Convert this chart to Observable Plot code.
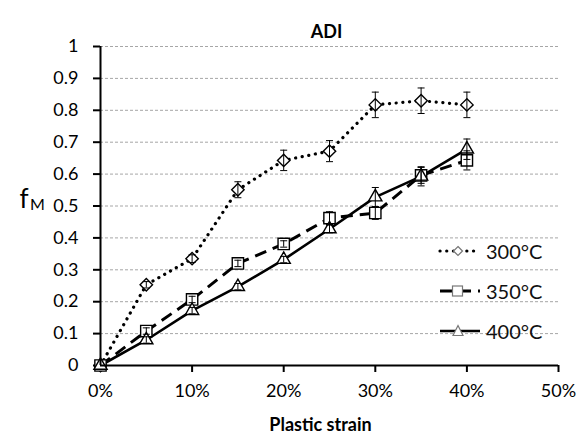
<!DOCTYPE html>
<html>
<head>
<meta charset="utf-8">
<script src="https://cdn.jsdelivr.net/npm/d3@7"></script>
<script src="https://cdn.jsdelivr.net/npm/@observablehq/plot@0.6"></script>
<style>
  body { margin: 0; background: white; }
  #wrap { position: relative; width: 582px; height: 441px; font-family: Lato, "Open Sans", sans-serif; }
  #legend { position: absolute; left: 438px; top: 231px; }
  .row { display: flex; align-items: center; height: 40px; }
  .row span { font-size: 20px; color: #111; margin-left: 4px; }
</style>
</head>
<body>
<div id="wrap"></div>
<script>
// ---- data ----
const strain = [0, 0.05, 0.10, 0.15, 0.20, 0.25, 0.30, 0.35, 0.40];
const f300 = [0, 0.253, 0.335, 0.551, 0.643, 0.672, 0.817, 0.830, 0.817];
const e300 = [0, 0.010, 0.012, 0.025, 0.032, 0.033, 0.040, 0.040, 0.040];
const f350 = [0, 0.108, 0.207, 0.320, 0.381, 0.462, 0.478, 0.596, 0.643];
const e350 = [0, 0.010, 0.010, 0.010, 0.010, 0.020, 0.020, 0.025, 0.030];
const f400 = [0, 0.080, 0.172, 0.247, 0.332, 0.428, 0.528, 0.593, 0.678];
const e400 = [0, 0.010, 0.010, 0.010, 0.010, 0.012, 0.030, 0.030, 0.032];
const seriesNames = ["300°C", "350°C", "400°C"];
const xTicks = [0, 0.1, 0.2, 0.3, 0.4, 0.5];
const yTicks = [0, 0.1, 0.2, 0.3, 0.4, 0.5, 0.6, 0.7, 0.8, 0.9, 1];
const titleText = "ADI";
const xLabel = "Plastic strain";
const yLabelMain = "f";
const yLabelSub = "M";

// ---- build tables ----
const makeRows = (vals, errs) => strain.map((s, i) => ({ strain: s, f: vals[i], lo: vals[i] - errs[i], hi: vals[i] + errs[i], e: errs[i] }));
const series = [
  { name: seriesNames[0], rows: makeRows(f300, e300), dash: "0.1,6.6", width: 3.2, symbol: "diamond2", r: 5.6 },
  { name: seriesNames[1], rows: makeRows(f350, e350), dash: "12,7", width: 3, symbol: "square2", r: 7.2 },
  { name: seriesNames[2], rows: makeRows(f400, e400), dash: null, width: 2.6, symbol: "triangle2", r: 6.3 }
];

const cap = { draw(ctx) { ctx.moveTo(-3.5, 0); ctx.lineTo(3.5, 0); } };

const marks = [
  Plot.gridY(yTicks, { stroke: "#a6a6a6", strokeOpacity: 1, strokeDasharray: "3,2", strokeWidth: 1 }),
  Plot.axisY(yTicks, { tickSize: 7, tickPadding: 15, fontSize: 18, strokeWidth: 2, label: null, tickFormat: d => String(+d.toFixed(1)) }),
  Plot.axisX(xTicks, { tickSize: 7, tickPadding: 12, fontSize: 18, strokeWidth: 2, label: null, tickFormat: d3.format(".0%") }),
];
for (const s of series) {
  marks.push(Plot.line(s.rows, { x: "strain", y: "f", stroke: "black", strokeWidth: s.width, strokeDasharray: s.dash, strokeLinecap: s.dash && s.dash.startsWith("0.1") ? "round" : "butt" }));
}
for (const s of series) {
  marks.push(Plot.dot(s.rows, { x: "strain", y: "f", symbol: s.symbol, r: s.r, fill: "white", stroke: "black", strokeWidth: 1.4 }));
}
for (const s of series) {
  const eb = s.rows.filter(d => d.e > 0);
  marks.push(Plot.ruleX(eb, { x: "strain", y1: "lo", y2: "hi", stroke: "black", strokeWidth: 1 }));
  marks.push(Plot.dot(eb, { x: "strain", y: "hi", symbol: cap, fill: "none", stroke: "black", strokeWidth: 1 }));
  marks.push(Plot.dot(eb, { x: "strain", y: "lo", symbol: cap, fill: "none", stroke: "black", strokeWidth: 1 }));
}
marks.push(
  Plot.ruleX([0], { stroke: "black", strokeWidth: 2 }),
  Plot.ruleY([0], { stroke: "black", strokeWidth: 2 }),
  Plot.text([titleText], { frameAnchor: "top", dx: -3, dy: -21, fontSize: 18, fontWeight: "bold", fill: "black" }),
  Plot.text([xLabel], { frameAnchor: "bottom", dx: -9, dy: 65, fontSize: 18, fontWeight: "bold", fill: "black" }),
  Plot.text([yLabelMain], { frameAnchor: "left", dx: -81, dy: -6, fontSize: 26, fill: "black" }),
  Plot.text([yLabelSub], { frameAnchor: "left", dx: -70.5, dy: -1, fontSize: 16, fill: "black" })
);

const chart = Plot.plot({
  width: 582, height: 441,
  marginLeft: 100, marginRight: 24, marginTop: 46, marginBottom: 76,
  style: { fontFamily: "Lato, 'Open Sans', sans-serif", background: "white", color: "black" },
  x: { domain: [0, 0.5] },
  y: { domain: [0, 1] },
  marks
});
document.getElementById("wrap").appendChild(chart);

// ---- legend ----
const legend = document.createElement("div");
legend.id = "legend";
const legendSym = {
  "diamond2": (g) => g.append("path").attr("d", "M20,4.5L24.5,9L20,13.5L15.5,9Z"),
  "square2": (g) => g.append("rect").attr("x", 14.5).attr("y", 4).attr("width", 10).attr("height", 10),
  "triangle2": (g) => g.append("path").attr("d", "M20,3.5L25,13.5L15,13.5Z")
};
for (const s of series) {
  const row = document.createElement("div");
  row.className = "row";
  const svg = d3.create("svg").attr("width", 44).attr("height", 18);
  svg.append("line").attr("x1", 2).attr("x2", 42).attr("y1", 9).attr("y2", 9)
    .attr("stroke", "black").attr("stroke-width", s.width)
    .attr("stroke-dasharray", s.dash).attr("stroke-linecap", s.dash && s.dash.startsWith("0.1") ? "round" : "butt");
  legendSym[s.symbol](svg).attr("fill", "white").attr("stroke", "#777").attr("stroke-width", 1.2);
  row.appendChild(svg.node());
  const t = document.createElement("span");
  t.textContent = s.name;
  row.appendChild(t);
  legend.appendChild(row);
}
document.getElementById("wrap").appendChild(legend);
</script>
</body>
</html>
